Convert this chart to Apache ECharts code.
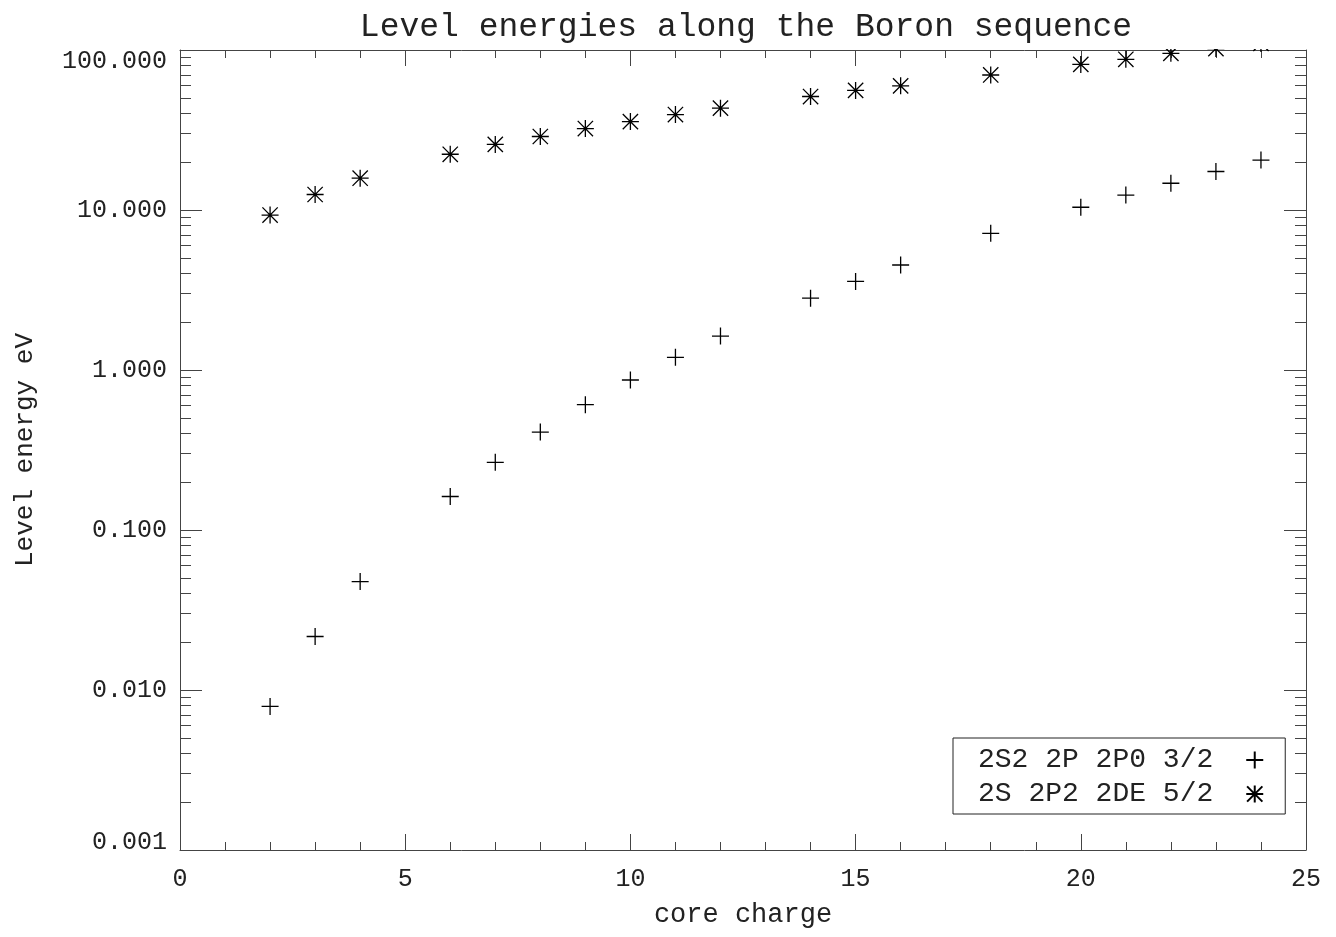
<!DOCTYPE html>
<html>
<head>
<meta charset="utf-8">
<script src="https://cdn.jsdelivr.net/npm/echarts@6/dist/echarts.min.js"></script>
<style>
  html, body { margin: 0; padding: 0; background: #fff; }
  #chart { width: 1336px; height: 937px; }
</style>
</head>
<body>
<div id="chart"></div>
<script>
// Core charge of each ion along the boron isoelectronic sequence
const coreCharge = [2, 3, 4, 6, 7, 8, 9, 10, 11, 12, 14, 15, 16, 18, 20, 21, 22, 23, 24];

// Level energies in eV
const level2P = [0.0079, 0.0216, 0.0476, 0.162, 0.265, 0.409, 0.607, 0.866, 1.20, 1.63,
                 2.81, 3.58, 4.53, 7.15, 10.4, 12.4, 14.7, 17.4, 20.5];
const level2D = [9.3, 12.5, 15.8, 22.3, 25.7, 28.8, 32.3, 35.7, 39.5, 43.3,
                 51.2, 55.9, 59.7, 69.8, 81.3, 87.5, 95.3, 102, 110];

const seriesNames = ['2S2 2P 2P0 3/2', '2S 2P2 2DE 5/2'];

// Minor tick positions (2..9 x 10^k), expressed as log10 for the tick-only axes
const minorLogTicks = [];
for (let k = -3; k <= 1; k++) {
  for (let m = 2; m <= 9; m++) minorLogTicks.push(Math.log10(m * Math.pow(10, k)));
}

const FONT = 'Liberation Mono';
const INK = '#222';
const AXIS = '#444';

const plusPath = 'path://M0 -10 L0 10 M-10 0 L10 0';
const starPath = 'path://M0 -10 L0 10 M-10 0 L10 0 M-9 -9 L9 9 M-9 9 L9 -9';

function pairs(xs, ys) { return xs.map((x, i) => [x, ys[i]]); }

const lineStyle = { color: AXIS, width: 1 };
const frameLine = { show: true, onZero: false, lineStyle };

const chart = echarts.init(document.getElementById('chart'), null, { renderer: 'canvas' });

chart.setOption({
  backgroundColor: '#fff',
  animation: false,
  title: {
    text: 'Level energies along the Boron sequence',
    left: 741,
    top: 6,
    textAlign: 'center',
    z: 20,
    textStyle: { fontFamily: FONT, fontSize: 33, fontWeight: 'normal', color: INK }
  },
  grid: { left: 180, right: 30, top: 50, bottom: 87, containLabel: false },
  legend: {
    orient: 'vertical',
    left: 953,
    top: 738,
    align: 'right',
    itemWidth: 17,
    itemHeight: 17,
    itemGap: 6,
    padding: [8, 21, 6, 25],
    borderColor: INK,
    borderWidth: 1,
    borderRadius: 0,
    textStyle: { fontFamily: FONT, fontSize: 28, color: INK, padding: [0, 28, 0, 0] },
    data: seriesNames
  },
  graphic: [{
    // blank band above the plot frame so marks past the top edge are cut off there
    type: 'rect',
    silent: true,
    z: 10,
    shape: { x: 170, y: 0, width: 1166, height: 49 },
    style: { fill: '#fff' }
  }],
  xAxis: [{
    type: 'value',
    position: 'bottom',
    min: 0, max: 25, interval: 5,
    name: 'core charge',
    nameLocation: 'middle',
    nameGap: 51,
    nameTextStyle: { fontFamily: FONT, fontSize: 27, color: INK },
    axisLine: frameLine,
    axisTick: { show: true, inside: true, length: 16, lineStyle },
    minorTick: { show: true, splitNumber: 5, length: 8, lineStyle },
    axisLabel: { show: true, margin: 17, fontFamily: FONT, fontSize: 25, color: INK },
    splitLine: { show: false },
    minorSplitLine: { show: false }
  }, {
    type: 'value',
    position: 'top',
    min: 0, max: 25, interval: 5,
    axisLine: frameLine,
    axisTick: { show: true, inside: true, length: 16, lineStyle },
    minorTick: { show: true, splitNumber: 5, length: 8, lineStyle },
    axisLabel: { show: false },
    splitLine: { show: false }
  }],
  yAxis: [{
    type: 'log',
    logBase: 10,
    position: 'left',
    min: 0.001, max: 100,
    name: 'Level energy eV',
    nameLocation: 'middle',
    nameRotate: 90,
    nameGap: 142,
    nameTextStyle: { fontFamily: FONT, fontSize: 26, color: INK },
    axisLine: frameLine,
    axisTick: { show: true, inside: true, length: 22, lineStyle },
    axisLabel: {
      show: true,
      margin: 13,
      fontFamily: FONT, fontSize: 25, color: INK,
      formatter: function (v) {
        const s = Number(v).toFixed(3);
        if (v >= 99.9) return '{top|' + s + '}';
        if (v <= 0.00101) return '{bot|' + s + '}';
        return s;
      },
      rich: {
        top: { fontFamily: FONT, fontSize: 25, color: INK, padding: [22, 0, 0, 0] },
        bot: { fontFamily: FONT, fontSize: 25, color: INK, padding: [0, 0, 16, 0] }
      }
    },
    splitLine: { show: false }
  }, {
    type: 'log',
    logBase: 10,
    position: 'right',
    min: 0.001, max: 100,
    axisLine: frameLine,
    axisTick: { show: true, inside: true, length: 22, lineStyle },
    axisLabel: { show: false },
    splitLine: { show: false }
  }, {
    // minor decade ticks, left side
    type: 'value',
    position: 'left',
    min: -3, max: 2,
    axisLine: { show: false, onZero: false },
    axisTick: { show: true, inside: true, length: 11, lineStyle, customValues: minorLogTicks },
    axisLabel: { show: false },
    splitLine: { show: false }
  }, {
    // minor decade ticks, right side
    type: 'value',
    position: 'right',
    min: -3, max: 2,
    axisLine: { show: false, onZero: false },
    axisTick: { show: true, inside: true, length: 11, lineStyle, customValues: minorLogTicks },
    axisLabel: { show: false },
    splitLine: { show: false }
  }],
  series: [{
    name: seriesNames[0],
    type: 'scatter',
    xAxisIndex: 0,
    yAxisIndex: 0,
    symbol: plusPath,
    symbolSize: 17,
    clip: false,
    itemStyle: { color: 'rgba(0,0,0,0)', borderColor: '#000', borderWidth: 1.3, opacity: 1 },
    emphasis: { disabled: true },
    data: pairs(coreCharge, level2P)
  }, {
    name: seriesNames[1],
    type: 'scatter',
    xAxisIndex: 0,
    yAxisIndex: 0,
    symbol: starPath,
    symbolSize: 17,
    clip: false,
    itemStyle: { color: 'rgba(0,0,0,0)', borderColor: '#000', borderWidth: 1.3, opacity: 1 },
    emphasis: { disabled: true },
    data: pairs(coreCharge, level2D)
  }]
});
</script>
</body>
</html>
